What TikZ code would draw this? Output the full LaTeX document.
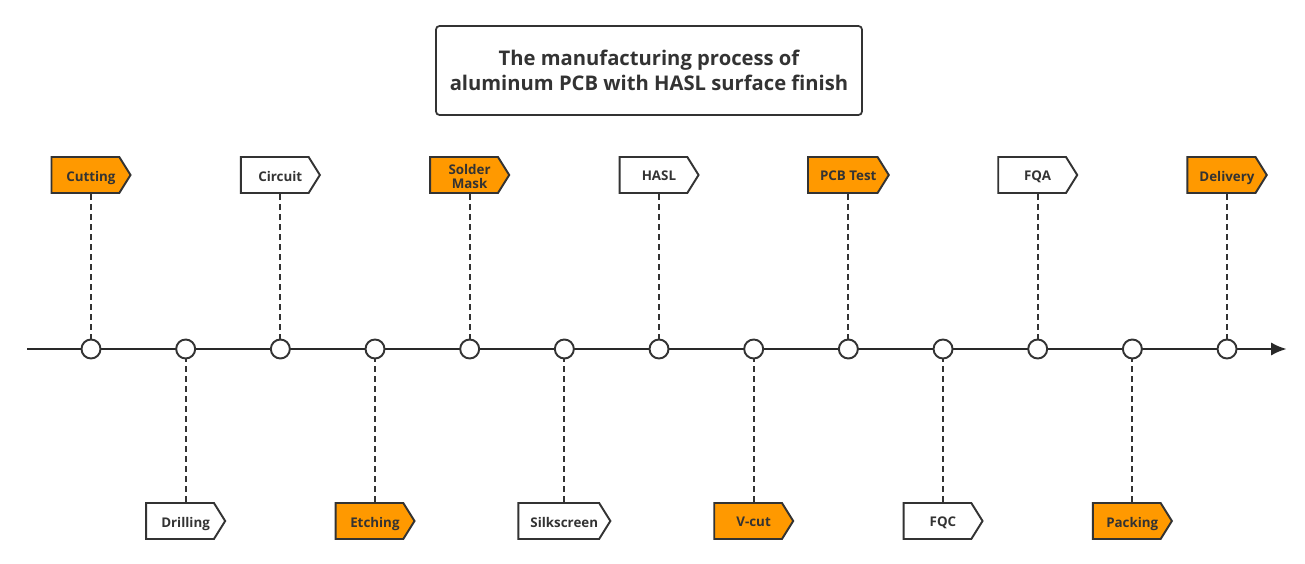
\documentclass[tikz,border=0pt]{standalone}
\usepackage{fontspec}
\setmainfont{Open Sans}
\usepackage{xcolor}
\usetikzlibrary{shapes.symbols, arrows.meta}

\definecolor{stepfill}{HTML}{FF9900}
\definecolor{inkgray}{HTML}{333333}

%% text of a tag, padded on the left by the length of the pointer
\newlength{\tagpad}
\setlength{\tagpad}{0.22cm}
\newcommand{\tagtext}[1]{\hspace*{\tagpad}{\renewcommand{\arraystretch}{0.95}%
    \raisebox{-1.7pt}[\height][\depth]{\begin{tabular}{@{}c@{}}#1\end{tabular}}}}

\begin{document}
\begin{tikzpicture}%
                    [x=0.02cm, y=-0.02cm,
                    tagbox/.style={signal, signal to=east, signal pointer angle=116,
                                   draw=inkgray, line width=1.1pt, text=inkgray,
                                   minimum width=79*0.02cm, minimum height=36*0.02cm,
                                   inner xsep=0.6pt, inner ysep=0pt,
                                   xshift=-5.6*0.02cm,
                                   font=\fontsize{7.6}{7.9}\selectfont\bfseries},
                    tagorange/.style={tagbox, fill=stepfill},
                    tagwhite/.style={tagbox, fill=white},
                    dot/.style={circle, draw=inkgray, fill=white, line width=1.1pt,
                                minimum size=19*0.02cm, inner sep=0pt},
                    link/.style={inkgray, line width=1.1pt, dash pattern=on 3.4pt off 2.3pt},
                    axis/.style={inkgray!80!black, line width=1.6pt, -{Latex[length=9pt, width=7.5pt]}}]

                %% Bounding box of the page
                \useasboundingbox (0,0) rectangle (1305,564);

                %% Title
                \node[draw=inkgray, line width=1pt, rounded corners=2pt,
                      minimum width=426*0.02cm, minimum height=89*0.02cm,
                      align=center, text=inkgray, text depth=0pt,
                      font=\fontsize{11.5}{14.5}\selectfont\bfseries] (title) at (649,70.5)
                     {The manufacturing process of\\aluminum PCB with HASL surface finish};

                %% Timeline
                \coordinate (axisstart) at (27,349);
                \coordinate (axisend) at (1287,349);
                \draw[axis] (axisstart) -- (axisend);

                %% Steps: even ones above, odd ones below
                \foreach \i/\lab/\kind in {0/Cutting/tagorange, 1/Drilling/tagwhite,
                                           2/Circuit/tagwhite, 3/Etching/tagorange,
                                           4/{Solder\\Mask}/tagorange, 5/Silkscreen/tagwhite,
                                           6/HASL/tagwhite, 7/V-cut/tagorange,
                                           8/PCB Test/tagorange, 9/FQC/tagwhite,
                                           10/FQA/tagwhite, 11/Packing/tagorange,
                                           12/Delivery/tagorange}
                {
                    \pgfmathsetmacro{\xpos}{91+\i*94.67}
                    \pgfmathtruncatemacro{\side}{mod(\i,2)}
                    \node[dot] (dot\i) at (\xpos,349) {};
                    \ifnum\side=0
                        \node[\kind] (tag\i) at (\xpos,175) {\tagtext{\lab}};
                        \draw[link] (tag\i.south -| dot\i) -- (dot\i);
                    \else
                        \node[\kind] (tag\i) at (\xpos,521) {\tagtext{\lab}};
                        \draw[link] (tag\i.north -| dot\i) -- (dot\i);
                    \fi
                }
                %%
\end{tikzpicture}
\end{document}
